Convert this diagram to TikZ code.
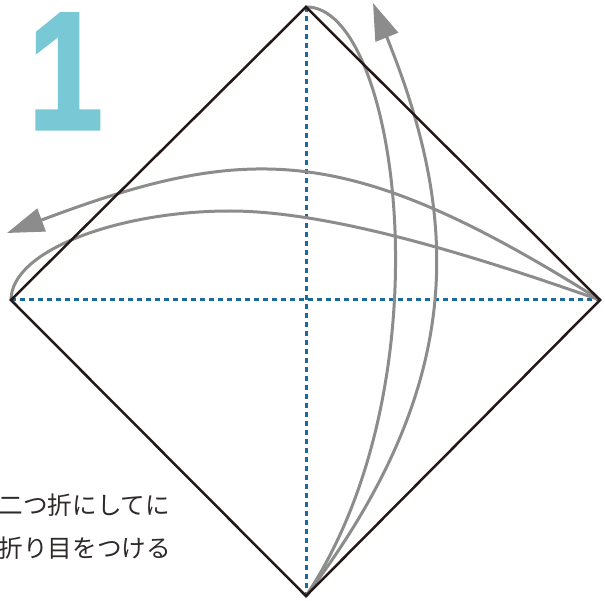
\documentclass[tikz,border=0pt]{standalone}
\usepackage{fontspec}
\usetikzlibrary{arrows.meta}
\newfontfamily\cjk{Noto Sans CJK JP}
\newfontfamily\numfont[FakeBold=2.5]{Liberation Sans Bold}
\definecolor{teal1}{HTML}{78C9D5}
\definecolor{fold}{HTML}{8C8C8C}
\definecolor{crease}{HTML}{1B6A9C}
\definecolor{edge}{HTML}{231815}
\definecolor{txt}{HTML}{2E2A2A}
\tikzset{
  creaseline/.style={draw=crease, line width=3pt, dash pattern=on 5pt off 4pt},
  paper/.style={draw=edge, line width=2.5pt, line join=miter},
  foldcurve/.style={draw=fold, line width=3pt},
  foldarrow/.style={foldcurve, arrows={-Triangle[length=37pt,width=24pt,fill=fold]}},
  label/.style={font=\cjk\fontsize{24.6}{28}\selectfont, text=txt, inner sep=0pt, anchor=west},
}
\begin{document}
\begin{tikzpicture}[x=1pt,y=-1pt]
\useasboundingbox (0,0) rectangle (605,601);
\coordinate (top) at (306,7);
\coordinate (left) at (11,300);
\coordinate (right) at (600,300);
\coordinate (bottom) at (306,596);
\coordinate (tipV) at (373,3);
\coordinate (tipH) at (7,233);
\coordinate (peak) at (230,211);
% number
\node[font=\numfont\fontsize{166}{166}\selectfont, text=teal1, inner sep=0pt, anchor=base, xscale=0.8, text height=119pt, text depth=0pt] (num) at (65.5,128.5) {1};
% crease lines
\draw[creaseline] (left) -- (right);
\draw[creaseline] (top) -- (bottom);
% fold curves
\draw[foldcurve] (top) .. controls (398,5) and (450,380) .. (bottom);
\draw[foldarrow] (bottom) .. controls (468,382) and (460,218) .. (tipV);
\draw[foldcurve] (left) .. controls (11,250) and (120,211) .. (peak) .. controls (340,211) and (500,265) .. (right);
\draw[foldarrow] (right) .. controls (349,142) and (249,142) .. (tipH);
% paper edges
\draw[paper] (top) -- (right) -- (bottom) -- (left) -- cycle;
% text
\node[label] (t1) at (-1.5,505) {二つ折にしてに};
\node[label] (t2) at (-1.5,548) {折り目をつける};
\end{tikzpicture}
\end{document}
